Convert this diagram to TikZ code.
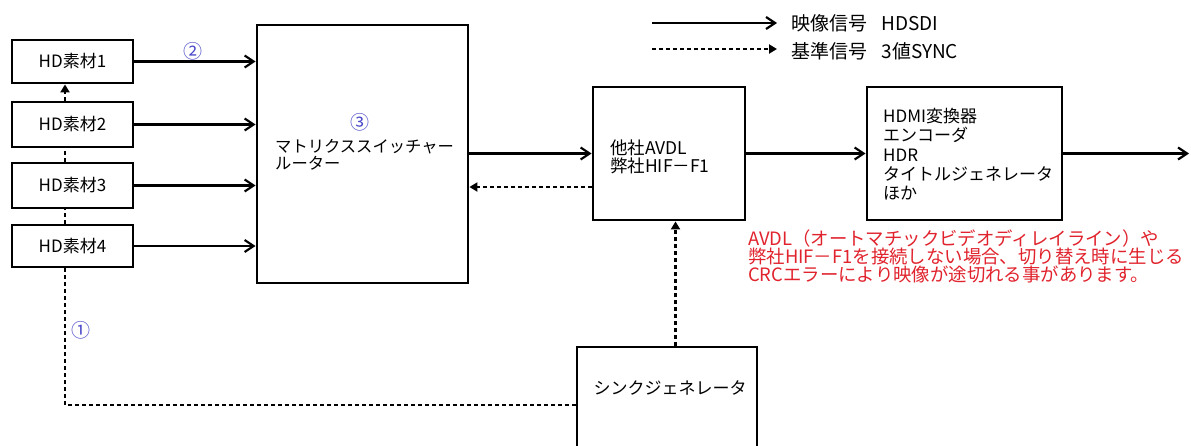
\documentclass[tikz,border=0pt]{standalone}
\usepackage{fontspec}
\setmainfont{Noto Sans CJK JP}
\usetikzlibrary{arrows.meta}
\definecolor{numblue}{RGB}{70,70,200}
\definecolor{notered}{RGB}{225,35,45}
\begin{document}
\begin{tikzpicture}[x=1pt,y=-1pt,
  box/.style={draw, line width=2.8pt, inner sep=0pt},
  sig/.style={line width=2.2pt, -{Straight Barb[length=9pt,width=12pt,line width=2.2pt]}},
  refarrow/.style={line width=2.5pt, dash pattern=on 4pt off 3pt, -{Triangle[length=8pt,width=9pt]}},
  refline/.style={line width=2.5pt, dash pattern=on 4pt off 3pt},
  txt/.style={inner sep=0pt, font=\fontsize{17}{19.3}\selectfont, align=left},
  num/.style={inner sep=0pt, text=numblue, font=\fontsize{19}{19}\selectfont},
  note/.style={inner sep=0pt, text=notered, font=\fontsize{18.4}{18}\selectfont, align=left}]
\useasboundingbox (0,0) rectangle (1191,445);
\clip (0,0) rectangle (1191,445);
\fill[white] (0,0) rectangle (1191,445);

% legend
\coordinate (lga) at (652,23);
\coordinate (lgb) at (777,23);
\coordinate (lgc) at (652,49);
\coordinate (lgd) at (777,49);
\draw[sig] (lga) -- (lgb);
\draw[refarrow] (lgc) -- (lgd);
\node[txt, font=\fontsize{19}{19}\selectfont, anchor=west] (lg1) at (791,23) {映像信号\hspace{0.75em}HDSDI};
\node[txt, font=\fontsize{19}{19}\selectfont, anchor=west] (lg2) at (791,51) {基準信号\hspace{0.75em}3値SYNC};

% boxes
\node[box, txt, minimum width=121pt, minimum height=43pt] (hd1) at (72.5,61.5) {HD素材1};
\node[box, txt, minimum width=121pt, minimum height=45pt] (hd2) at (72.5,124.5) {HD素材2};
\node[box, txt, minimum width=121pt, minimum height=45pt] (hd3) at (72.5,185.5) {HD素材3};
\node[box, txt, minimum width=121pt, minimum height=42pt] (hd4) at (72.5,246) {HD素材4};
\node[box, minimum width=211pt, minimum height=258pt] (matrix) at (362.5,154) {};
\node[box, minimum width=152pt, minimum height=133pt] (avdl) at (669,153.5) {};
\node[box, minimum width=195pt, minimum height=133pt] (hdmi) at (964.5,153.5) {};
\node[box, minimum width=180pt, minimum height=130pt] (sync) at (667,412) {};

% texts in boxes
\node[num] (n3) at (360,122) {③};
\node[txt, font=\fontsize{16.3}{17.5}\selectfont, anchor=north west] (mtxt) at (275,139) {マトリクススイッチャー\\ルーター};
\node[txt, font=\fontsize{17.5}{18}\selectfont, anchor=north west] (atxt) at (610,140) {他社AVDL\\弊社HIF－F1};
\node[txt, anchor=north west] (htxt) at (883,108) {HDMI変換器\\エンコーダ\\HDR\\タイトルジェネレータ\\ほか};
\node[txt] (stxt) at (670,388) {シンクジェネレータ};

% coordinates
\coordinate (c1) at (65,405);
\coordinate (rb) at (0,187);
\coordinate (sx) at (675.5,0);
\coordinate (out) at (1189,153.5);

% signal arrows
\draw[sig] (hd1.east) -- (hd1.east -| matrix.west);
\draw[sig] (hd2.east) -- (hd2.east -| matrix.west);
\draw[sig] (hd3.east) -- (hd3.east -| matrix.west);
\draw[sig] (hd4.east) -- (hd4.east -| matrix.west);
\draw[sig] (matrix.east |- avdl.west) -- (avdl.west);
\draw[sig] (avdl.east) -- (hdmi.west);
\draw[sig] (hdmi.east) -- (out);

% reference signal
\draw[refarrow] (avdl.west |- rb) -- (matrix.east |- rb);
\draw[refarrow] (sync.north -| sx) -- (avdl.south -| sx);
\draw[refline] (sync.west |- c1) -- (c1) -- (hd4.south -| c1);
\draw[refline] (hd4.north -| c1) -- (hd3.south -| c1);
\draw[refline] (hd3.north -| c1) -- (hd2.south -| c1);
\draw[refarrow] (hd2.north -| c1) -- (hd1.south -| c1);

% numbers
\node[num] (n2) at (193,51) {②};
\node[num] (n1) at (81,330) {①};

% note
\node[note, anchor=north west] (note) at (748,229.5) {AVDL（オートマチックビデオディレイライン）や\\弊社HIF－F1を接続しない場合、切り替え時に生じる\\CRCエラーにより映像が途切れる事があります。};
\end{tikzpicture}
\end{document}
